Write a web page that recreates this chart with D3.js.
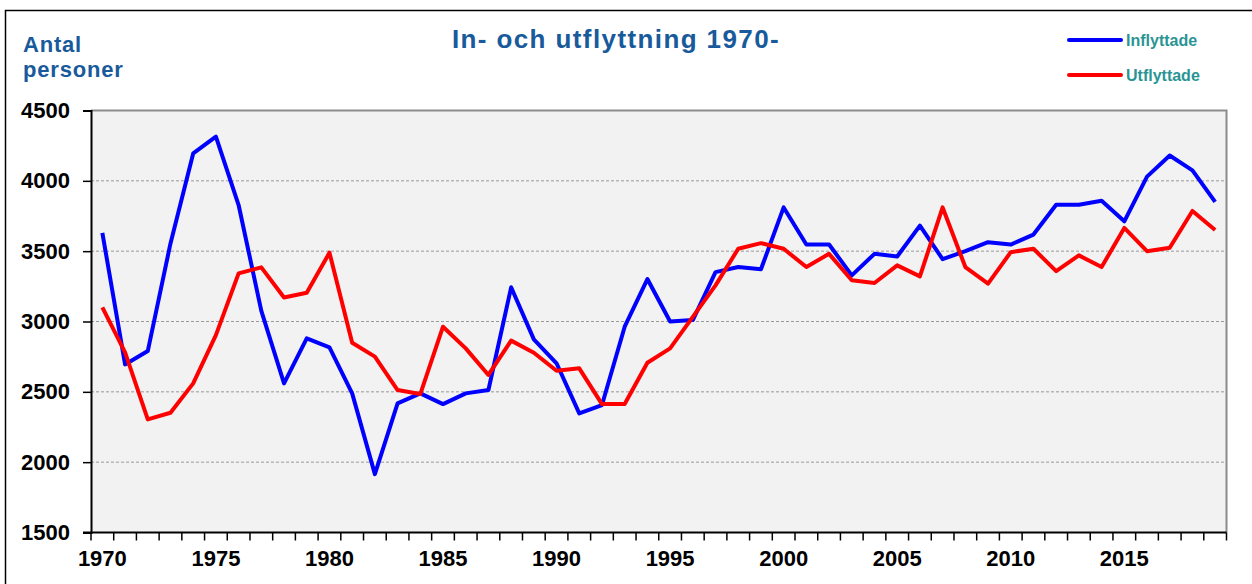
<!DOCTYPE html>
<html lang="sv">
<head>
<meta charset="utf-8">
<title>In- och utflyttning 1970-</title>
<script src="https://d3js.org/d3.v7.min.js"></script>
<style>
  body{margin:0;background:#fff;font-family:"Liberation Sans",Arial,sans-serif;}
</style>
</head>
<body>
<div id="chart"></div>
<script>
// years on the category axis
var years = d3.range(1970, 2020)
var yTicks = [1500, 2000, 2500, 3000, 3500, 4000, 4500]
var xLabels = [1970, 1975, 1980, 1985, 1990, 1995, 2000, 2005, 2010, 2015]

// antal personer
var inflyttade = [3630,2695,2790,3555,4195,4314,3828,3076,2560,2880,
                  2816,2489,1915,2418,2489,2413,2489,2513,3243,2873,
                  2703,2347,2406,2963,3302,3000,3010,3351,3387,3371,
                  3811,3547,3547,3328,3481,3462,3682,3443,3500,3564,
                  3547,3618,3830,3830,3858,3712,4030,4180,4074,3850]
var utflyttade = [3100,2780,2304,2351,2560,2903,3342,3385,3171,3204,
                  3489,2849,2750,2513,2484,2963,2809,2620,2864,2778,
                  2650,2667,2413,2413,2707,2809,3033,3257,3517,3557,
                  3517,3387,3481,3293,3274,3399,3321,3811,3387,3269,
                  3493,3517,3358,3470,3387,3665,3500,3524,3786,3651]

var series = [
    {name: "Inflyttade", values: inflyttade, color: "#0000ff"},
    {name: "Utflyttade", values: utflyttade, color: "#ff0000"}
]

var w = 1252, h = 584
// note: "top" is taken by window.top, so plotTop etc.
var plotLeft = 91, plotRight = 1226.5, plotTop = 110.5, plotBottom = 532.5

var svg = d3.select("#chart").append("svg")
    .attr("width", w).attr("height", h)

// outer frame (only top and left visible in the picture)
svg.append("path")
    .attr("d", "M5.5," + h + "V10.5H" + w)
    .attr("fill", "none").attr("stroke", "#000").attr("stroke-width", 1.5)

var x = d3.scaleBand().domain(years).range([plotLeft, plotRight]).paddingInner(0).paddingOuter(0)
var y = d3.scaleLinear().domain([1500, 4500]).range([plotBottom, plotTop])

// plot area
svg.append("rect")
    .attr("x", plotLeft).attr("y", plotTop)
    .attr("width", plotRight - plotLeft).attr("height", plotBottom - plotTop)
    .attr("fill", "#f2f2f2")

// gridlines
svg.selectAll(".grid")
    .data(yTicks.filter(function(d){ return d > 1500 && d < 4500 }))
    .enter().append("line")
    .attr("x1", plotLeft).attr("x2", plotRight)
    .attr("y1", function(d){ return y(d) }).attr("y2", function(d){ return y(d) })
    .attr("stroke", "#999").attr("stroke-width", 1).attr("stroke-dasharray", "3,2")

// top and right border of plot
svg.append("path")
    .attr("d", "M" + plotLeft + "," + plotTop + "H" + plotRight + "V" + plotBottom)
    .attr("fill", "none").attr("stroke", "#8c8c8c").attr("stroke-width", 2)

// y axis
var yAxis = svg.append("g")
    .attr("transform", "translate(" + plotLeft + ",0)")
    .call(d3.axisLeft(y).tickValues(yTicks).tickSize(8).tickPadding(13).tickFormat(d3.format("d")))
yAxis.select(".domain").attr("stroke", "#000").attr("stroke-width", 2)
yAxis.selectAll(".tick line").attr("stroke", "#000").attr("stroke-width", 1.5)
yAxis.selectAll("text")
    .attr("fill", "#000").attr("font-size", 22).attr("font-weight", "bold")
    .attr("font-family", "Liberation Sans, Arial, sans-serif")

// x axis: ticks on category boundaries
var xAxis = svg.append("g").attr("transform", "translate(0," + plotBottom + ")")
xAxis.append("line")
    .attr("x1", plotLeft - 8).attr("x2", plotRight)
    .attr("stroke", "#000").attr("stroke-width", 2)
xAxis.selectAll(".xtick")
    .data(years.concat([null]))
    .enter().append("line")
    .attr("x1", function(d){ return d === null ? plotRight : x(d) })
    .attr("x2", function(d){ return d === null ? plotRight : x(d) })
    .attr("y1", 0).attr("y2", 8)
    .attr("stroke", "#000").attr("stroke-width", 1.5)
xAxis.selectAll(".xlabel")
    .data(xLabels)
    .enter().append("text")
    .attr("x", function(d){ return x(d) + x.bandwidth() / 2 })
    .attr("y", 33)
    .attr("text-anchor", "middle")
    .attr("font-size", 22).attr("font-weight", "bold")
    .text(function(d){ return d })

// lines
var line = d3.line()
    .x(function(d, i){ return x(years[i]) + x.bandwidth() / 2 })
    .y(function(d){ return y(d) })

svg.selectAll(".serie")
    .data(series)
    .enter().append("path")
    .attr("d", function(d){ return line(d.values) })
    .attr("fill", "none")
    .attr("stroke", function(d){ return d.color })
    .attr("stroke-width", 4)
    .attr("stroke-linejoin", "round")

// title
svg.append("text")
    .attr("x", 616).attr("y", 48)
    .attr("text-anchor", "middle")
    .attr("fill", "#185a9b").attr("font-size", 26).attr("font-weight", "bold")
    .attr("letter-spacing", 1.4)
    .text("In- och utflyttning 1970-")

// y axis title
var yTitle = svg.append("text")
    .attr("fill", "#185a9b").attr("font-size", 22).attr("font-weight", "bold")
    .attr("letter-spacing", 0.8)
yTitle.append("tspan").attr("x", 23).attr("y", 52).text("Antal")
yTitle.append("tspan").attr("x", 23).attr("y", 77).text("personer")

// legend
var legend = svg.selectAll(".legend")
    .data(series)
    .enter().append("g")
    .attr("transform", function(d, i){ return "translate(1069," + (40 + i * 35) + ")" })
legend.append("line")
    .attr("x1", 0).attr("x2", 52)
    .attr("stroke", function(d){ return d.color })
    .attr("stroke-width", 4).attr("stroke-linecap", "round")
legend.append("text")
    .attr("x", 57).attr("y", 6)
    .attr("fill", "#2a9494").attr("font-size", 16).attr("font-weight", "bold")
    .text(function(d){ return d.name })
</script>
</body>
</html>
